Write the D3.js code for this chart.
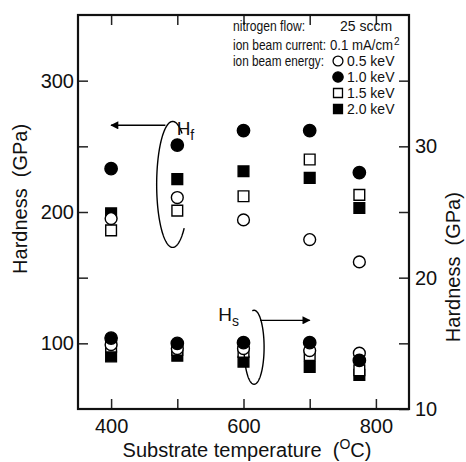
<!DOCTYPE html>
<html>
<head>
<meta charset="utf-8">
<script src="https://cdn.jsdelivr.net/npm/d3@7"></script>
<style>
  body { margin: 0; background: #fff; }
  svg { font-family: "Liberation Sans", Arial, sans-serif; }
</style>
</head>
<body>
<svg id="chart" width="466" height="462"></svg>
<script>
// substrate temperature (C)
const temps = [400, 500, 600, 700, 775];

// film hardness Hf, left axis (GPa)
const hf05 = [195, 211, 194, 179, 162];
const hf10 = [233, 251, 262, 262, 230];
const hf15 = [186, 201, 212, 240, 213];
const hf20 = [199, 225, 231, 226, 203];

// substrate hardness Hs, right axis (GPa)
const hs05 = [14.9, 14.6, 14.6, 14.45, 14.25];
const hs10 = [15.4, 15.0, 15.05, 15.05, 13.7];
const hs15 = [14.75, 14.5, 14.35, 14.1, 12.95];
const hs20 = [14.0, 14.05, 13.6, 13.2, 12.6];

const xTicks = [400, 500, 600, 700, 800];
const xLabels = [400, 600, 800];
const yLeftTicks = [100, 150, 200, 250, 300];
const yLeftLabels = [100, 200, 300];
const yRightTicks = [10, 15, 20, 25, 30, 35];
const yRightLabels = [10, 20, 30];

const energies = ["0.5 keV", "1.0 keV", "1.5 keV", "2.0 keV"];

const margin = { top: 15, right: 57, bottom: 53, left: 78 };
const width = 466, height = 462;

const svg = d3.select("#chart");

const x = d3.scaleLinear().domain([350, 850]).range([margin.left, width - margin.right]);
const yL = d3.scaleLinear().domain([50, 350]).range([height - margin.bottom, margin.top]);
const yR = d3.scaleLinear().domain([10, 40]).range([height - margin.bottom, margin.top]);

const tick = 10;

// axes, ticks pointing inward
const xAxis = svg.append("g")
    .attr("transform", `translate(0,${height - margin.bottom})`)
    .call(d3.axisBottom(x).tickValues(xTicks).tickSize(-tick).tickPadding(10)
        .tickFormat(d => xLabels.includes(d) ? d : ""));

const xTop = svg.append("g")
    .attr("transform", `translate(0,${margin.top})`)
    .call(d3.axisTop(x).tickValues(xTicks).tickSize(-tick).tickFormat(""));

const yAxisL = svg.append("g")
    .attr("transform", `translate(${margin.left},0)`)
    .call(d3.axisLeft(yL).tickValues(yLeftTicks).tickSize(-tick).tickPadding(4)
        .tickFormat(d => yLeftLabels.includes(d) ? d : ""));

const yAxisR = svg.append("g")
    .attr("transform", `translate(${width - margin.right},0)`)
    .call(d3.axisRight(yR).tickValues(yRightTicks).tickSize(-tick).tickPadding(6)
        .tickFormat(d => yRightLabels.includes(d) ? d : ""));

svg.selectAll(".domain").remove();
svg.selectAll(".tick line").attr("stroke", "#222").attr("stroke-width", 1.5);
svg.selectAll(".tick text").attr("fill", "#111").style("font-size", "20px")
    .style("font-family", "'Liberation Sans', Arial, sans-serif");

// frame
svg.append("rect")
    .attr("x", margin.left).attr("y", margin.top)
    .attr("width", width - margin.left - margin.right)
    .attr("height", height - margin.top - margin.bottom)
    .attr("fill", "none").attr("stroke", "#111").attr("stroke-width", 2.2);

// axis titles
svg.append("text")
    .attr("transform", `translate(27,${yL(210)}) rotate(-90)`)
    .attr("text-anchor", "middle").style("font-size", "20px").attr("fill", "#111")
    .text("Hardness\u00a0\u00a0(GPa)");

svg.append("text")
    .attr("transform", `translate(460,${yR(20.8)}) rotate(-90)`)
    .attr("text-anchor", "middle").style("font-size", "20px").attr("fill", "#111")
    .text("Hardness\u00a0\u00a0(GPa)");

const xt = svg.append("text")
    .attr("x", 247).attr("y", 457)
    .attr("text-anchor", "middle").style("font-size", "20px").attr("fill", "#111");
xt.append("tspan").text("Substrate temperature\u00a0\u00a0(");
xt.append("tspan").attr("dy", -8).style("font-size", "14px").text("O");
xt.append("tspan").attr("dy", 8).text("C)");

// markers
const sym = {
    "0.5 keV": { type: d3.symbolCircle, size: 110, fill: "#fff" },
    "1.0 keV": { type: d3.symbolCircle, size: 120, fill: "#000" },
    "1.5 keV": { type: d3.symbolSquare, size: 115, fill: "#fff" },
    "2.0 keV": { type: d3.symbolSquare, size: 115, fill: "#000" }
};

function drawSeries(vals, yScale, key) {
    const s = sym[key];
    svg.append("g").selectAll("path")
        .data(temps.map((t, i) => [t, vals[i]]))
        .join("path")
        .attr("transform", d => `translate(${x(d[0])},${yScale(d[1])})`)
        .attr("d", d3.symbol().type(s.type).size(s.size))
        .attr("fill", s.fill).attr("stroke", "#000").attr("stroke-width", 1.4);
}

drawSeries(hf20, yL, "2.0 keV");
drawSeries(hf15, yL, "1.5 keV");
drawSeries(hf05, yL, "0.5 keV");
drawSeries(hf10, yL, "1.0 keV");

drawSeries(hs20, yR, "2.0 keV");
drawSeries(hs15, yR, "1.5 keV");
drawSeries(hs05, yR, "0.5 keV");
drawSeries(hs10, yR, "1.0 keV");

// legend / conditions (narrow lettering as in the original print)
const lg = svg.append("g").style("font-size", "14px").attr("fill", "#111");
const lx = 233;
const squeeze = t => t.attr("lengthAdjust", "spacingAndGlyphs");
squeeze(lg.append("text").attr("x", lx).attr("y", 31).attr("textLength", 72).text("nitrogen flow:"));
lg.append("text").attr("x", 340).attr("y", 31).text("25 sccm");
squeeze(lg.append("text").attr("x", lx).attr("y", 50).attr("textLength", 93).text("ion beam current:"));
squeeze(lg.append("text").attr("x", 330).attr("y", 50).attr("textLength", 63).text("0.1 mA/cm"));
lg.append("text").attr("x", 394).attr("y", 45).style("font-size", "10px").text("2");
squeeze(lg.append("text").attr("x", lx).attr("y", 66).attr("textLength", 91).text("ion beam energy:"));

energies.forEach((e, i) => {
    const yy = 66 + i * 16;
    const s = sym[e];
    lg.append("path")
        .attr("transform", `translate(338,${yy - 5})`)
        .attr("d", d3.symbol().type(s.type).size(s.size * 0.7))
        .attr("fill", s.fill).attr("stroke", "#000").attr("stroke-width", 1.3);
    lg.append("text").attr("x", 347).attr("y", yy).text(e);
});

// annotations: ellipses and arrows
svg.append("defs").append("marker")
    .attr("id", "head").attr("viewBox", "0 0 10 10")
    .attr("refX", 9).attr("refY", 5)
    .attr("markerWidth", 14).attr("markerHeight", 8)
    .attr("markerUnits", "userSpaceOnUse")
    .attr("orient", "auto")
    .append("path").attr("d", "M0,0 L10,5 L0,10 Z").attr("fill", "#000");

function ellipseArc(cx, cy, rx, ry, a0, a1) {
    const pts = d3.range(a0, a1 + 0.5, 2).map(a => {
        const r = a * Math.PI / 180;
        return [cx + rx * Math.cos(r), cy + ry * Math.sin(r)];
    });
    return d3.line()(pts);
}

const ann = svg.append("g").attr("fill", "none").attr("stroke", "#000").attr("stroke-width", 1.4);

// Hf ellipse round the 500 C film points
ann.append("path").attr("d", ellipseArc(x(493), yL(221), 16, 63, 44, 306));
ann.append("line")
    .attr("x1", x(482)).attr("y1", yL(266))
    .attr("x2", x(400)).attr("y2", yL(266))
    .attr("marker-end", "url(#head)");

const hfT = svg.append("text").attr("x", x(499)).attr("y", yL(259))
    .style("font-size", "19px").attr("fill", "#111");
hfT.append("tspan").text("H");
hfT.append("tspan").attr("dy", 5).style("font-size", "14px").text("f");

// Hs ellipse round the 600 C substrate points
ann.append("path").attr("d", ellipseArc(x(616), yR(14.7), 10, 37, -100, 169));
ann.append("line")
    .attr("x1", x(625)).attr("y1", yR(16.75))
    .attr("x2", x(700)).attr("y2", yR(16.75))
    .attr("marker-end", "url(#head)");

const hsT = svg.append("text").attr("x", x(562)).attr("y", yR(16.7))
    .style("font-size", "19px").attr("fill", "#111");
hsT.append("tspan").text("H");
hsT.append("tspan").attr("dy", 5).style("font-size", "14px").text("s");
</script>
</body>
</html>
